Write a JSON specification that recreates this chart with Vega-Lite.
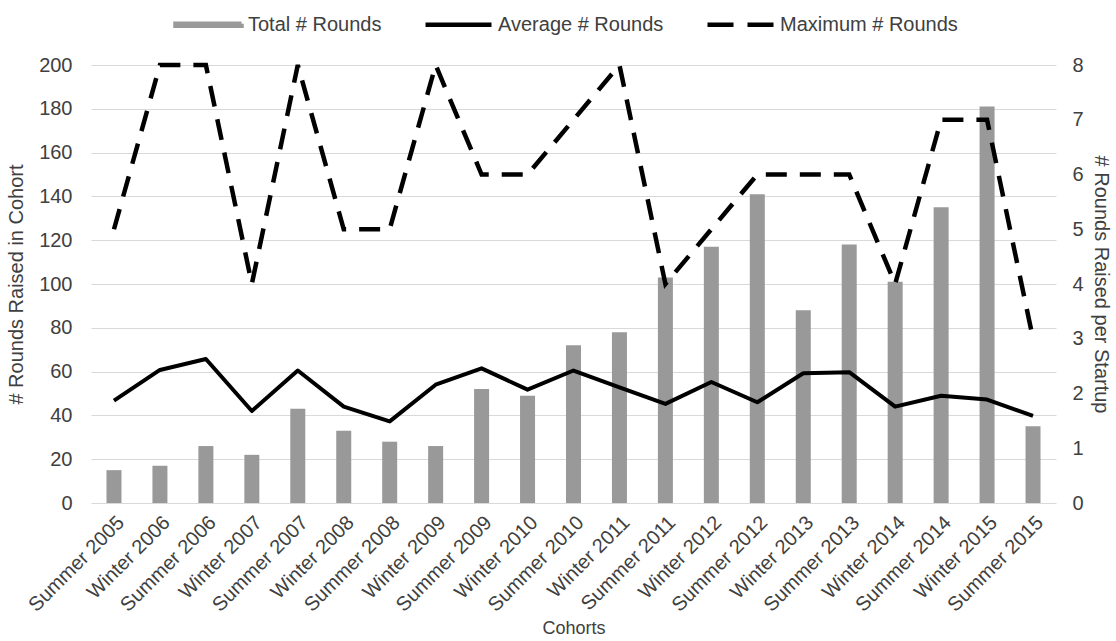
{
  "$schema": "https://vega.github.io/schema/vega-lite/v6.json",
  "width": 965,
  "height": 438,
  "autosize": {"type": "none"},
  "padding": {"left": 91, "top": 65, "right": 60, "bottom": 138},
  "background": "white",
  "config": {
    "view": {"stroke": null},
    "font": "Liberation Sans",
    "axis": {
      "labelFont": "Liberation Sans",
      "labelFontSize": 20,
      "labelColor": "#404040",
      "titleFont": "Liberation Sans",
      "titleFontSize": 20,
      "titleFontWeight": "normal",
      "titleColor": "#404040",
      "ticks": false,
      "domain": false,
      "gridColor": "#d9d9d9",
      "gridWidth": 1
    }
  },
  "data": {
    "values": [
      {"cohort": "Summer 2005", "total": 15, "avg": 1.87, "max": 5},
      {"cohort": "Winter 2006", "total": 17, "avg": 2.43, "max": 8},
      {"cohort": "Summer 2006", "total": 26, "avg": 2.63, "max": 8},
      {"cohort": "Winter 2007", "total": 22, "avg": 1.68, "max": 4},
      {"cohort": "Summer 2007", "total": 43, "avg": 2.42, "max": 8},
      {"cohort": "Winter 2008", "total": 33, "avg": 1.76, "max": 5},
      {"cohort": "Summer 2008", "total": 28, "avg": 1.49, "max": 5},
      {"cohort": "Winter 2009", "total": 26, "avg": 2.16, "max": 8},
      {"cohort": "Summer 2009", "total": 52, "avg": 2.46, "max": 6},
      {"cohort": "Winter 2010", "total": 49, "avg": 2.07, "max": 6},
      {"cohort": "Summer 2010", "total": 72, "avg": 2.42, "max": 7},
      {"cohort": "Winter 2011", "total": 78, "avg": 2.11, "max": 8},
      {"cohort": "Summer 2011", "total": 103, "avg": 1.81, "max": 4},
      {"cohort": "Winter 2012", "total": 117, "avg": 2.21, "max": 5},
      {"cohort": "Summer 2012", "total": 141, "avg": 1.84, "max": 6},
      {"cohort": "Winter 2013", "total": 88, "avg": 2.37, "max": 6},
      {"cohort": "Summer 2013", "total": 118, "avg": 2.39, "max": 6},
      {"cohort": "Winter 2014", "total": 101, "avg": 1.76, "max": 4},
      {"cohort": "Summer 2014", "total": 135, "avg": 1.96, "max": 7},
      {"cohort": "Winter 2015", "total": 181, "avg": 1.89, "max": 7},
      {"cohort": "Summer 2015", "total": 35, "avg": 1.59, "max": 3}
    ]
  },
  "encoding": {
    "x": {
      "field": "cohort",
      "type": "nominal",
      "sort": null,
      "title": "Cohorts",
      "axis": {"labelAngle": -45, "labelPadding": 9, "titlePadding": 5, "titleFontSize": 18, "grid": false}
    }
  },
  "layer": [
    {
      "mark": {"type": "bar", "size": 15},
      "encoding": {
        "y": {
          "field": "total",
          "type": "quantitative",
          "scale": {"domain": [0, 200]},
          "axis": {
            "orient": "left",
            "title": "# Rounds Raised in Cohort",
            "values": [0, 20, 40, 60, 80, 100, 120, 140, 160, 180, 200],
            "grid": true,
            "labelPadding": 19,
            "titlePadding": 12
          }
        },
        "color": {
          "datum": "Total # Rounds",
          "scale": {
            "domain": ["Total # Rounds", "Average # Rounds", "Maximum # Rounds"],
            "range": ["#999999", "#000000", "#000000"]
          },
          "legend": {
            "orient": "none",
            "legendX": 82,
            "legendY": -76,
            "direction": "horizontal",
            "title": null,
            "symbolSize": 4356,
            "symbolStrokeWidth": 4.5,
            "labelFont": "Liberation Sans",
            "labelFontSize": 20,
            "labelColor": "#404040",
            "labelLimit": 400,
            "labelOffset": 4,
            "columnPadding": 34,
            "encode": {
              "symbols": {
                "update": {
                  "shape": [
                    {"test": "datum.value === 'Total # Rounds'", "value": "M-1,-0.03H1V0.03H-1Z"},
                    {"value": "stroke"}
                  ],
                  "fill": [
                    {"test": "datum.value === 'Total # Rounds'", "value": "#999999"},
                    {"value": "transparent"}
                  ],
                  "stroke": [
                    {"test": "datum.value === 'Total # Rounds'", "value": "#999999"},
                    {"value": "#000000"}
                  ],
                  "strokeDash": [
                    {"test": "datum.value === 'Maximum # Rounds'", "value": [26, 14]},
                    {"value": [1, 0]}
                  ],
                  "opacity": {"value": 1}
                }
              }
            }
          }
        }
      }
    },
    {
      "encoding": {
        "y": {
          "type": "quantitative",
          "scale": {"domain": [0, 8]},
          "axis": {
            "orient": "right",
            "title": "# Rounds Raised per Startup",
            "values": [0, 1, 2, 3, 4, 5, 6, 7, 8],
            "grid": false,
            "labelPadding": 16,
            "titlePadding": 7
          }
        }
      },
      "layer": [
        {
          "mark": {"type": "line", "strokeWidth": 4, "strokeJoin": "round"},
          "encoding": {
            "y": {"field": "avg", "type": "quantitative"},
            "color": {"datum": "Average # Rounds"}
          }
        },
        {
          "mark": {"type": "line", "strokeWidth": 4.5, "strokeDash": [21, 13], "strokeCap": "butt"},
          "encoding": {
            "y": {"field": "max", "type": "quantitative"},
            "color": {"datum": "Maximum # Rounds"}
          }
        }
      ]
    }
  ],
  "resolve": {"scale": {"y": "independent"}}
}
